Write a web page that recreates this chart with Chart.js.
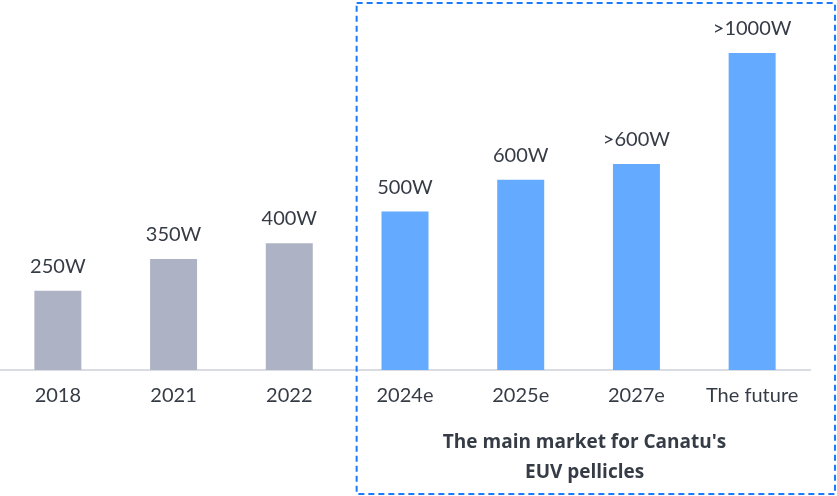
<!DOCTYPE html>
<html>
<head>
<meta charset="utf-8">
<script src="https://cdn.jsdelivr.net/npm/chart.js@4.4.0/dist/chart.umd.min.js"></script>
<style>
  html, body { margin: 0; padding: 0; background: #ffffff; }
  #wrap { width: 837px; height: 496px; position: relative; }
</style>
</head>
<body>
<div id="wrap"><canvas id="c" width="837" height="496"></canvas></div>
<script>
const categories = ["2018", "2021", "2022", "2024e", "2025e", "2027e", "The future"];
const powerValues = [250, 350, 400, 500, 600, 650, 1000];
const valueLabels = ["250W", "350W", "400W", "500W", "600W", ">600W", ">1000W"];
const highlightStart = 3;
const captionLines = ["The main market for Canatu's", "EUV pellicles"];

const FONT = "Lato, 'Open Sans', sans-serif";
const CAPFONT = "'Open Sans', Lato, sans-serif";
const TEXT = "#363c46";
const GREY = "#adb3c4";
const BLUE = "#64aafe";

const barColors = categories.map((c, i) => i >= highlightStart ? BLUE : GREY);

const overlayPlugin = {
  id: 'overlay',
  afterDatasetsDraw(chart) {
    const ctx = chart.ctx;
    const meta = chart.getDatasetMeta(0);
    ctx.save();
    ctx.fillStyle = TEXT;
    ctx.font = "20px " + FONT;
    ctx.textAlign = 'center';
    ctx.textBaseline = 'alphabetic';
    meta.data.forEach((bar, i) => {
      ctx.fillText(valueLabels[i], bar.x, bar.y - 18);
    });
    ctx.restore();
  },
  afterDraw(chart) {
    const ctx = chart.ctx;
    const x = chart.scales.x;
    const left = (x.getPixelForValue(highlightStart - 1) + x.getPixelForValue(highlightStart)) / 2 + 9.5;
    const right = chart.width - 2;
    const top = 3;
    const bottom = chart.height - 2;
    ctx.save();
    ctx.strokeStyle = "#1a7bff";
    ctx.lineWidth = 2;
    ctx.setLineDash([6, 4]);
    ctx.strokeRect(left, top, right - left, bottom - top);
    ctx.setLineDash([]);
    ctx.fillStyle = TEXT;
    ctx.font = "bold 19px " + CAPFONT;
    ctx.textAlign = 'center';
    ctx.textBaseline = 'middle';
    const cx = (x.getPixelForValue(highlightStart) + x.getPixelForValue(categories.length - 1)) / 2 + 6;
    ctx.fillText(captionLines[0], cx, 443);
    ctx.fillText(captionLines[1], cx, 473);
    ctx.restore();
  }
};

new Chart(document.getElementById('c'), {
  type: 'bar',
  data: {
    labels: categories,
    datasets: [{
      data: powerValues,
      backgroundColor: barColors,
      borderWidth: 0,
      categoryPercentage: 1.0,
      barPercentage: 0.406
    }]
  },
  options: {
    responsive: false,
    animation: false,
    events: [],
    layout: { padding: { top: 53, right: 27, left: 0, bottom: 0 } },
    plugins: { legend: { display: false }, tooltip: { enabled: false } },
    scales: {
      y: { display: false, min: 0, max: 1000 },
      x: {
        grid: { display: false, drawTicks: false },
        border: { display: true, color: "#d9dde3", width: 2 },
        ticks: { color: TEXT, font: { family: FONT, size: 20 }, padding: 14, maxRotation: 0, autoSkip: false },
        afterFit(s) { s.height = 126; }
      }
    }
  },
  plugins: [overlayPlugin]
});
</script>
</body>
</html>
